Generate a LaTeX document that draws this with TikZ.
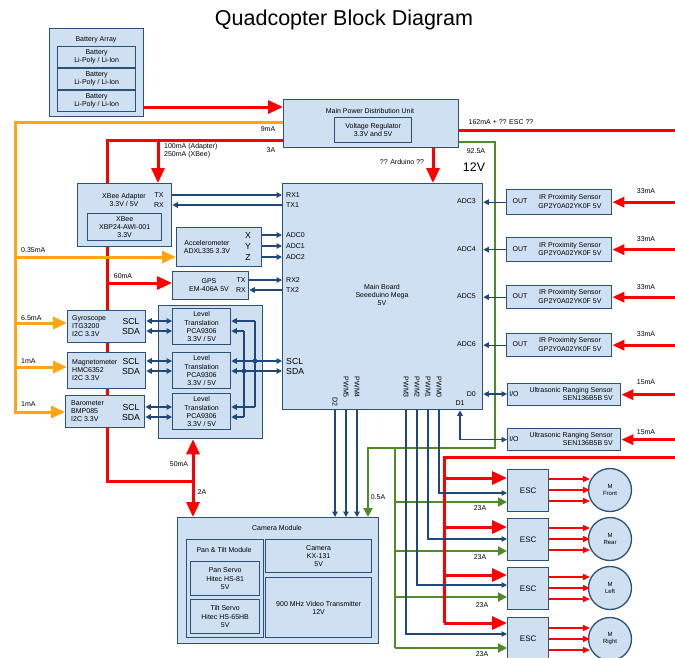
\documentclass[tikz,border=0pt]{standalone}
\usepackage{fontspec}
\setmainfont{Liberation Sans}
\usetikzlibrary{arrows.meta}
\definecolor{fillc}{RGB}{206,224,242}
\definecolor{bdr}{RGB}{44,82,122}
\definecolor{bluec}{RGB}{31,73,125}
\definecolor{redc}{RGB}{255,0,0}
\definecolor{orc}{RGB}{255,165,20}
\definecolor{grc}{RGB}{78,140,40}
\pgfdeclarelayer{back}
\pgfsetlayers{back,main}
\newcommand\qbox[7][]{\node[box,#1,anchor=north west,minimum width={(#5-#3)*1pt},minimum height={(#6-#4)*1pt}] (#2) at (#3,#4) {#7};}
\begin{document}
\begin{tikzpicture}[x=1pt,y=-1pt,font=\fontsize{7}{8.3}\selectfont,
 box/.style={draw=bdr,fill=fillc,line width=1.3pt,inner sep=0pt,align=center},
 lb/.style={inner sep=0pt,align=center},
 pin/.style={inner sep=0pt,font=\fontsize{7}{8}\selectfont},
 bigpin/.style={inner sep=0pt,font=\fontsize{8.7}{9}\selectfont},
 bl/.style={draw=bluec,line width=1.2pt},
 ba/.style={bl,-{Triangle[length=5.5pt,width=5.5pt]}},
 bd/.style={bl,{Triangle[length=5.5pt,width=5.5pt]}-{Triangle[length=5.5pt,width=5.5pt]}},
 rd/.style={draw=redc,line width=3pt},
 ra/.style={rd,-{Triangle[length=15pt,width=13pt]}},
 rm/.style={rd,-{Triangle[length=12pt,width=10pt]}},
 rt/.style={draw=redc,line width=1.5pt,-{Triangle[length=7pt,width=6pt]}},
 og/.style={draw=orc,line width=3pt},
 oa/.style={og,-{Triangle[length=14pt,width=12pt]}},
 gn/.style={draw=grc,line width=2pt},
 ga/.style={gn,-{Triangle[length=9pt,width=9pt]}},
]
\useasboundingbox (0,0) rectangle (675,657);
\begin{pgfonlayer}{back}
\fill[white] (0,0) rectangle (675,657);
\end{pgfonlayer}

% ---------- title
\node[font=\fontsize{21.5}{24}\selectfont,inner sep=0pt] (title) at (344,20) {Quadcopter Block Diagram};

% ---------- boxes
\qbox{batt}{49}{28}{143}{116}{}
\node[lb] (batt-t) at (96,40) {Battery Array};
\qbox{bat1}{57}{46}{135}{67}{Battery\\Li-Poly / Li-Ion}
\qbox{bat2}{57}{68}{135}{89}{Battery\\Li-Poly / Li-Ion}
\qbox{bat3}{57}{90}{135}{111}{Battery\\Li-Poly / Li-Ion}

\qbox{pdu}{283}{99}{458}{147}{}
\node[lb] (pdu-t) at (370,111) {Main Power Distribution Unit};
\qbox{vreg}{334}{117}{411}{142}{Voltage Regulator\\3.3V and 5V}

\qbox{board}{282}{183}{482}{409}{}
\node[lb] (board-t) at (382,295) {Main Board\\Seeeduino Mega\\5V};
\node[pin,anchor=west] (p-rx1) at (286,195) {RX1};
\node[pin,anchor=west] (p-tx1) at (286,205) {TX1};
\node[pin,anchor=west] (p-adc0) at (286,235) {ADC0};
\node[pin,anchor=west] (p-adc1) at (286,246) {ADC1};
\node[pin,anchor=west] (p-adc2) at (286,257) {ADC2};
\node[pin,anchor=west] (p-rx2) at (286,280) {RX2};
\node[pin,anchor=west] (p-tx2) at (286,290) {TX2};
\node[bigpin,anchor=west] (p-scl) at (286,361) {SCL};
\node[bigpin,anchor=west] (p-sda) at (286,371) {SDA};
\node[pin,anchor=east] (p-adc3) at (476,201.5) {ADC3};
\node[pin,anchor=east] (p-adc4) at (476,249) {ADC4};
\node[pin,anchor=east] (p-adc5) at (476,296.5) {ADC5};
\node[pin,anchor=east] (p-adc6) at (476,344.5) {ADC6};
\node[pin,anchor=east] (p-d0) at (476,394) {D0};
\node[pin] (p-d1) at (460,403) {D1};
\node[pin,rotate=-90,anchor=east] (p-d2) at (335,407) {D2};
\node[pin,rotate=-90,anchor=east] (p-pwm5) at (346,398) {PWM5};
\node[pin,rotate=-90,anchor=east] (p-pwm4) at (357,398) {PWM4};
\node[pin,rotate=-90,anchor=east] (p-pwm3) at (406,398) {PWM3};
\node[pin,rotate=-90,anchor=east] (p-pwm2) at (417,398) {PWM2};
\node[pin,rotate=-90,anchor=east] (p-pwm1) at (428,398) {PWM1};
\node[pin,rotate=-90,anchor=east] (p-pwm0) at (439,398) {PWM0};

\qbox{xbee}{77}{183}{171}{246}{}
\node[lb] (xbee-t) at (124,200) {XBee Adapter\\3.3V / 5V};
\node[pin] (xbee-tx) at (159,195) {TX};
\node[pin] (xbee-rx) at (159,205) {RX};
\qbox{xbeein}{87}{213}{161}{240}{XBee\\XBP24-AWI-001\\3.3V}

\qbox{acc}{176}{227}{261}{266}{}
\node[lb] (acc-t) at (207,247) {Accelerometer\\ADXL335 3.3V};
\node[bigpin] (acc-x) at (248,235) {X};
\node[bigpin] (acc-y) at (248,246) {Y};
\node[bigpin] (acc-z) at (248,257) {Z};

\qbox{gps}{172}{271}{248}{299}{}
\node[lb] (gps-t) at (209,285) {GPS\\EM-406A 5V};
\node[pin] (gps-tx) at (241,280) {TX};
\node[pin] (gps-rx) at (241,290) {RX};

\qbox{gyro}{67}{310}{145}{342}{}
\node[lb,align=left,anchor=west] (gyro-t) at (72,326) {Gyroscope\\ITG3200\\I2C 3.3V};
\node[bigpin] (gyro-scl) at (131,321) {SCL};
\node[bigpin] (gyro-sda) at (131,331) {SDA};
\qbox{mag}{67}{352}{145}{388}{}
\node[lb,align=left,anchor=west] (mag-t) at (72,370) {Magnetometer\\HMC6352\\I2C 3.3V};
\node[bigpin] (mag-scl) at (131,361) {SCL};
\node[bigpin] (mag-sda) at (131,371) {SDA};
\qbox{baro}{65}{395}{144}{427}{}
\node[lb,align=left,anchor=west] (baro-t) at (71,411) {Barometer\\BMP085\\I2C 3.3V};
\node[bigpin] (baro-scl) at (131,407) {SCL};
\node[bigpin] (baro-sda) at (131,417) {SDA};

\qbox{ltc}{158}{305}{262}{438}{}
\qbox{lt1}{172}{308}{230}{344}{Level\\Translation\\PCA9306\\3.3V / 5V}
\qbox{lt2}{172}{352}{230}{388}{Level\\Translation\\PCA9306\\3.3V / 5V}
\qbox{lt3}{172}{393}{230}{429}{Level\\Translation\\PCA9306\\3.3V / 5V}

\foreach \i/\a/\b in {1/189/214,2/237/261,3/285/308,4/333/356}{
  \qbox{ir\i}{506}{\a}{611}{\b}{}
  \node[lb] (ir\i-o) at (520,{(\a+\b)/2}) {OUT};
  \node[lb] (ir\i-t) at (570,{(\a+\b)/2}) {IR Proximity Sensor\\GP2Y0A02YK0F 5V};
}
\foreach \i/\a/\b in {1/383/405,2/428/450}{
  \qbox{us\i}{507}{\a}{620}{\b}{}
  \node[lb] (us\i-o) at (514,{(\a+\b)/2}) {I/O};
  \node[lb,align=right,anchor=east] (us\i-t) at (613,{(\a+\b)/2}) {Ultrasonic Ranging Sensor\\SEN136B5B 5V};
}
\foreach \i/\a/\b in {1/469/511,2/518/560,3/567/609,4/617/659}{
  \qbox[font=\fontsize{8}{9}\selectfont]{esc\i}{507}{\a}{548}{\b}{ESC}
}
\foreach \i/\c/\n in {1/490/Front,2/539/Rear,3/588/Left,4/639/Right}{
  \node[box,circle,minimum size=43pt,font=\fontsize{6}{7}\selectfont] (m\i) at (610,\c) {M\\\n};
}

\qbox{cam}{177}{517}{378}{643}{}
\node[lb] (cam-t) at (277,528) {Camera Module};
\qbox{pt}{186}{539}{263}{637}{}
\node[lb] (pt-t) at (224,550) {Pan \& Tilt Module};
\qbox{pan}{190}{561}{259}{595}{Pan Servo\\Hitec HS-81\\5V}
\qbox{tilt}{190}{599}{259}{633}{Tilt Servo\\Hitec HS-65HB\\5V}
\qbox{camr}{265}{539}{371}{572}{Camera\\KX-131\\5V}
\qbox{vtx}{265}{577}{371}{637}{900 MHz Video Transmitter\\12V}

% ---------- power connectors
\draw[ra] (batt.east |- 0,107) -- (pdu.west |- 0,107);
\draw[oa] (pdu.west |- 0,122) -- (15,122) -- (15,412) -- (baro.west |- 0,412);
\draw[oa] (15,257) -- (acc.west |- 0,257);
\draw[oa] (15,323) -- (gyro.west |- 0,323);
\draw[oa] (15,367) -- (mag.west |- 0,367);
\node[lb,anchor=west] (l-o1) at (21,250) {0.35mA};
\node[lb,anchor=west] (l-o2) at (21,318) {6.5mA};
\node[lb,anchor=west] (l-o3) at (21,361) {1mA};
\node[lb,anchor=west] (l-o4) at (21,404) {1mA};

\begin{pgfonlayer}{back}
\draw[rd] (pdu.west |- 0,140) -- (107,140) -- (107,481) -- (193,481);
\end{pgfonlayer}
\draw[ra] (158,140) -- (xbee.north -| 158,0);
\draw[ra] (107,283) -- (gps.west |- 0,283);
\draw[ra] (193,481) -- (ltc.south -| 193,0);
\draw[ra] (193,481) -- (cam.north -| 193,0);
\node[lb,align=left,anchor=west] (l-xb) at (164,151) {100mA (Adapter)\\250mA (XBee)};
\node[lb] (l-9ma) at (268,129) {9mA};
\node[lb] (l-3a) at (271,150) {3A};
\node[lb] (l-60) at (123,276) {60mA};
\node[lb] (l-50) at (179,464) {50mA};
\node[lb] (l-2a) at (202,492) {2A};

\draw[ra] (pdu.south -| 433,0) -- (board.north -| 433,0);
\node[lb] (l-ard) at (402,162) {?? Arduino ??};
\draw[rd] (pdu.east |- 0,130) -- (675,130);
\node[lb] (l-esc) at (501,122) {162mA + ?? ESC ??};

\draw[ga] (pdu.east |- 0,142) -- (495,142) -- (495,448) -- (368,448) -- (cam.north -| 368,0);
\draw[gn] (395,448) -- (395,648);
\foreach \i/\y in {1/502,2/551,3/597,4/648}{
  \draw[ga] (395,\y) -- (esc\i.west |- 0,\y);
}
\node[lb] (l-925) at (476,151) {92.5A};
\node[lb,font=\fontsize{12.4}{14}\selectfont] (l-12v) at (474,167) {12V};
\node[lb] (l-05) at (378,497) {0.5A};
\node[lb] (l-23a) at (480,508) {23A};
\node[lb] (l-23b) at (480,557) {23A};
\node[lb] (l-23c) at (482,605) {23A};
\node[lb] (l-23d) at (482,654) {23A};

\draw[rd] (675,457) -- (444,457) -- (444,623);
\foreach \i/\y in {1/478,2/527,3/575,4/623}{
  \draw[ra] (444,\y) -- (esc\i.west |- 0,\y);
}
\foreach \i/\c in {1/490,2/539,3/588,4/639}{
  \foreach \o in {-11,0,11}{
    \draw[rt] (esc\i.east |- 0,\c+\o) -- (590,\c+\o);
  }
}

\foreach \i/\l in {1/33mA,2/33mA,3/33mA,4/33mA}{
  \draw[rm] (ir\i.east -| 675,0) -- (ir\i.east);
  \draw[ba] (ir\i.west) -- (board.east |- ir\i.west);
}
\node[lb] (l-ir1) at (646,191) {33mA};
\node[lb] (l-ir2) at (646,239) {33mA};
\node[lb] (l-ir3) at (646,287) {33mA};
\node[lb] (l-ir4) at (646,334) {33mA};
\draw[rm] (us1.east -| 675,0) -- (us1.east);
\draw[rm] (us2.east -| 675,0) -- (us2.east);
\node[lb] (l-us1) at (646,382) {15mA};
\node[lb] (l-us2) at (646,432) {15mA};

% ---------- signal connectors
\draw[ba] (xbee.east |- p-rx1) -- (board.west |- p-rx1);
\draw[ba] (board.west |- p-tx1) -- (xbee.east |- p-tx1);
\draw[ba] (acc.east |- p-adc0) -- (board.west |- p-adc0);
\draw[ba] (acc.east |- p-adc1) -- (board.west |- p-adc1);
\draw[ba] (acc.east |- p-adc2) -- (board.west |- p-adc2);
\draw[ba] (gps.east |- p-rx2) -- (board.west |- p-rx2);
\draw[ba] (board.west |- p-tx2) -- (gps.east |- p-tx2);

\draw[bd] (gyro.east |- gyro-scl) -- (lt1.west |- gyro-scl);
\draw[bd] (gyro.east |- gyro-sda) -- (lt1.west |- gyro-sda);
\draw[bd] (mag.east |- mag-scl) -- (lt2.west |- mag-scl);
\draw[bd] (mag.east |- mag-sda) -- (lt2.west |- mag-sda);
\draw[bd] (baro.east |- baro-scl) -- (lt3.west |- baro-scl);
\draw[bd] (baro.east |- baro-sda) -- (lt3.west |- baro-sda);

\draw[bl] (255,321) -- (255,407);
\draw[bl] (244,331) -- (244,417);
\draw[ba] (255,321) -- (lt1.east |- 0,321);
\draw[ba] (244,331) -- (lt1.east |- 0,331);
\draw[ba] (255,407) -- (lt3.east |- 0,407);
\draw[ba] (244,417) -- (lt3.east |- 0,417);
\draw[bd] (lt2.east |- p-scl) -- (board.west |- p-scl);
\draw[bd] (lt2.east |- p-sda) -- (board.west |- p-sda);
\fill[bluec] (255,361) circle (2.4pt);
\fill[bluec] (244,371) circle (2.4pt);

\draw[ba] (board.south -| p-d2) -- (cam.north -| p-d2);
\draw[ba] (board.south -| p-pwm5) -- (cam.north -| p-pwm5);
\draw[ba] (board.south -| p-pwm4) -- (cam.north -| p-pwm4);
\draw[ba] (board.south -| p-pwm0) |- (esc1.west |- 0,493);
\draw[ba] (board.south -| p-pwm1) |- (esc2.west |- 0,539);
\draw[ba] (board.south -| p-pwm2) |- (esc3.west |- 0,585);
\draw[ba] (board.south -| p-pwm3) |- (esc4.west |- 0,634);

\draw[bd] (board.east |- p-d0) -- (us1.west |- p-d0);
\draw[bd] (board.south -| p-d1) |- (us2.west);
\end{tikzpicture}
\end{document}
